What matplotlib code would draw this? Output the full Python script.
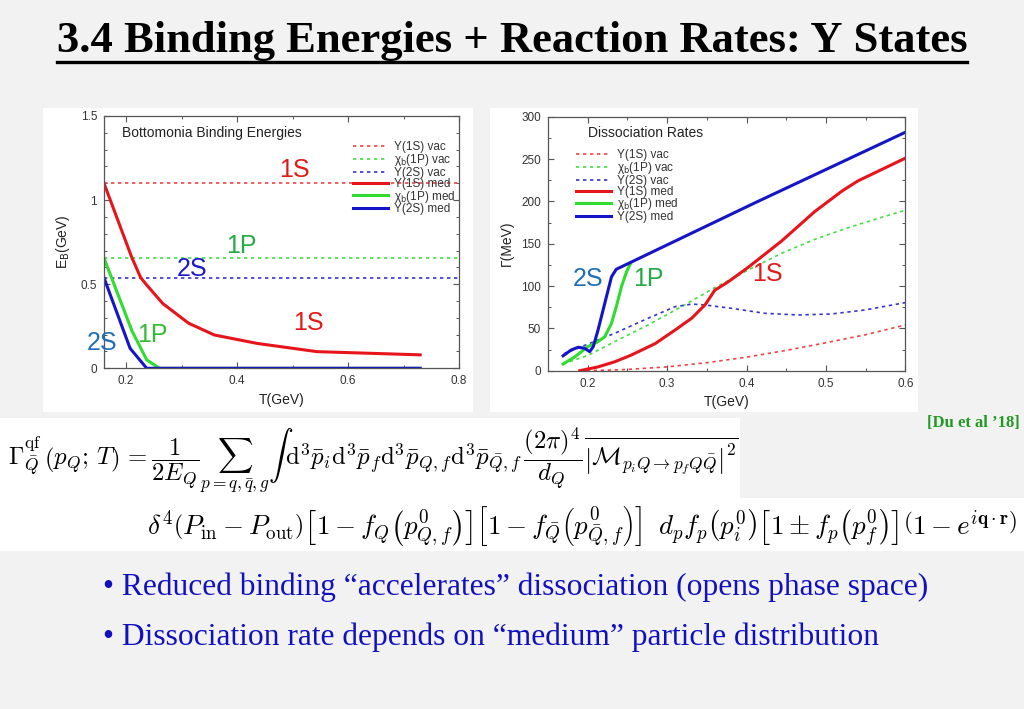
import matplotlib
matplotlib.use('Agg')
import matplotlib.pyplot as plt
from matplotlib.patches import Rectangle
from matplotlib.lines import Line2D
from matplotlib.ticker import MultipleLocator, FixedLocator

# ---------------- data ----------------
# Binding energies (GeV) vs T (GeV)
eb_vac_1s = 1.10
eb_vac_1p = 0.658
eb_vac_2s = 0.537
eb_T_1s = [0.16, 0.21, 0.226, 0.237, 0.266, 0.3125, 0.359, 0.436, 0.544, 0.73]
eb_1s = [1.10, 0.66, 0.54, 0.495, 0.385, 0.268, 0.198, 0.148, 0.099, 0.08]
eb_T_1p = [0.16, 0.2105, 0.237, 0.26, 0.73]
eb_1p = [0.655, 0.222, 0.05, 0.0, 0.0]
eb_T_2s = [0.16, 0.207, 0.237, 0.73]
eb_2s = [0.538, 0.119, 0.0, 0.0]

# Dissociation rates (MeV) vs T (GeV)
r_T_1s_vac = [0.19, 0.22, 0.25, 0.3, 0.35, 0.4, 0.45, 0.5, 0.55, 0.6]
r_1s_vac = [0, 0.5, 1.5, 4.5, 9.5, 16, 24, 33, 42.5, 54]
r_T_1p_vac = [0.169, 0.2, 0.234, 0.276, 0.318, 0.36, 0.402, 0.444, 0.486, 0.528, 0.57, 0.6]
r_1p_vac = [7.9, 18, 34.3, 54, 75.6, 98, 118.9, 138.6, 155.2, 168.9, 181.1, 189.5]
r_T_2s_vac = [0.17, 0.192, 0.234, 0.276, 0.31, 0.331, 0.348, 0.381, 0.423, 0.465, 0.507, 0.549, 0.6]
r_2s_vac = [20, 28.3, 44.2, 61.9, 75.6, 78.7, 77.6, 73.7, 67.8, 65.8, 67, 71.7, 80.4]
r_T_1s_med = [0.19, 0.213, 0.234, 0.255, 0.285, 0.31, 0.331, 0.348, 0.36, 0.377, 0.402, 0.444, 0.486, 0.52, 0.54, 0.6]
r_1s_med = [0, 4.5, 10.5, 18.5, 32, 48, 62, 78, 95, 105, 122, 153, 188, 212, 224, 251]
r_T_1p_med = [0.169, 0.184, 0.2, 0.213, 0.2215, 0.23, 0.236, 0.2425, 0.249, 0.254]
r_1p_med = [7.9, 16.5, 28.3, 34.3, 40.2, 56, 75.6, 99.2, 117, 126.8]
r_T_2s_med = [0.169, 0.179, 0.188, 0.196, 0.2025, 0.207, 0.213, 0.2215, 0.23, 0.236, 0.41, 0.6]
r_2s_med = [17.6, 24.4, 27.7, 26.5, 22.5, 28.4, 48, 79.6, 111, 119.8, 198, 281.6]

legend_labels = ['Υ(1S) vac', 'χ$_\\mathrm{b}$(1P) vac', 'Υ(2S) vac',
                 'Υ(1S) med', 'χ$_\\mathrm{b}$(1P) med', 'Υ(2S) med']
left_xticks = [0.2, 0.4, 0.6, 0.8]
left_yticks = [0, 0.5, 1, 1.5]
left_yticklabels = ['0', '0.5', '1', '1.5']
right_xticks = [0.2, 0.3, 0.4, 0.5, 0.6]
right_yticks = [0, 50, 100, 150, 200, 250, 300]

title = '3.4 Binding Energies + Reaction Rates: Υ States'
bullets = ['• Reduced binding \u201caccelerates\u201d dissociation (opens phase space)',
           '• Dissociation rate depends on \u201cmedium\u201d particle distribution']
citation = '[Du et al \u201918]'
formula1 = (r'$\Gamma^{\mathrm{qf}}_{\bar{Q}}\,\left(p_Q;\,T\right)\,=\dfrac{1}{2E_Q}'
            r'\sum_{p=q,\bar{q},g}\int\,\mathrm{d}^3\bar{p}_i\mathrm{d}^3\bar{p}_f'
            r'\mathrm{d}^3\bar{p}_{Q,f}\mathrm{d}^3\bar{p}_{\bar{Q},f}\,\dfrac{(2\pi)^4}{d_Q}'
            r'\overline{\left|\mathcal{M}_{p_iQ\rightarrow p_fQ\bar{Q}}\right|^2}$')
formula2 = (r'$\delta^4\left(P_{\mathrm{in}}-P_{\mathrm{out}}\right)\left[1-f_Q\left(p^0_{Q,f}\right)\right]'
            r'\left[1-f_{\bar{Q}}\left(p^0_{\bar{Q},f}\right)\right]\;\;d_pf_p\left(p^0_i\right)'
            r'\left[1\pm f_p\left(p^0_f\right)\right]\left(1-e^{i\mathbf{q}\cdot\mathbf{r}}\right)$')

# ---------------- styling ----------------
RED, GREEN, BLUE = '#e8141b', '#2fdc2f', '#1515c8'
RED_V, GREEN_V, BLUE_V = '#ee4444', '#44dd44', '#3535cc'
SANS = 'Liberation Sans'
SERIF = 'Liberation Serif'
plt.rcParams['font.family'] = [SANS, 'DejaVu Sans']

W, H = 1024, 709
fig = plt.figure(figsize=(W / 100, H / 100), dpi=100, facecolor='#f2f2f2')


def fx(px):
    return px / W


def fy(py):
    return 1 - py / H


for (x0, y0, x1, y1) in [(43, 108, 473, 412), (490, 108, 918, 412),
                         (0, 418, 740, 500), (0, 498, 1024, 551)]:
    fig.add_artist(Rectangle((fx(x0), fy(y1)), fx(x1 - x0), (y1 - y0) / H,
                             transform=fig.transFigure, facecolor='white',
                             edgecolor='none', zorder=0))


def style_axes(ax):
    for s in ax.spines.values():
        s.set_color('#555555')
        s.set_linewidth(0.9)
    ax.tick_params(which='both', direction='in', top=True, right=True,
                   colors='#555555', labelcolor='#333333', labelsize=8.5)
    ax.tick_params(which='major', length=4.5, width=0.8, pad=5)
    ax.tick_params(which='minor', length=2.5, width=0.7)
    for lab in ax.get_xticklabels() + ax.get_yticklabels():
        lab.set_fontfamily(SANS)


def add_legend(ax, handles, x, y):
    leg = ax.legend(handles, legend_labels, loc='upper left', bbox_to_anchor=(x, y),
                    frameon=False, fontsize=8.5, handlelength=3.0, handletextpad=0.5,
                    labelspacing=-0.1, borderpad=0, borderaxespad=0)
    for t in leg.get_texts():
        t.set_color('#333333')
    return leg


# ---------------- left: binding energies ----------------
axL = fig.add_axes([fx(104), fy(368.3), fx(459 - 104), (368.3 - 116) / H])
axL.set_facecolor('white')
axL.set_xlim(0.16, 0.8)
axL.set_ylim(0, 1.5)
h1 = axL.axhline(eb_vac_1s, color=RED_V, lw=1.2, ls=(0, (2, 2.2)))
h2 = axL.axhline(eb_vac_1p, color=GREEN_V, lw=1.2, ls=(0, (2, 2.2)))
h3 = axL.axhline(eb_vac_2s, color=BLUE_V, lw=1.2, ls=(0, (2, 2.2)))
h4, = axL.plot(eb_T_1s, eb_1s, color=RED, lw=2.2)
h5, = axL.plot(eb_T_1p, eb_1p, color=GREEN, lw=2.2)
h6, = axL.plot(eb_T_2s, eb_2s, color=BLUE, lw=2.2)
axL.xaxis.set_major_locator(FixedLocator(left_xticks))
axL.set_xticklabels(['%.1f' % v for v in left_xticks])
axL.yaxis.set_major_locator(FixedLocator(left_yticks))
axL.set_yticklabels(left_yticklabels)
axL.xaxis.set_minor_locator(MultipleLocator(0.1))
axL.yaxis.set_minor_locator(MultipleLocator(0.1))
style_axes(axL)
axL.set_xlabel('T(GeV)', fontsize=10, color='#222222', labelpad=4)
axL.set_ylabel('E$_\\mathrm{B}$(GeV)', fontsize=10, color='#222222', labelpad=6)
axL.text(0.0507, 0.933, 'Bottomonia Binding Energies', transform=axL.transAxes,
         fontsize=10, color='#222222', va='center', ha='left')
add_legend(axL, [h1, h2, h3, h4, h5, h6], 0.701, 0.9)
lab_kw = dict(fontsize=18, ha='center', va='center', clip_on=False)
axL.text(0.504, 1.177, '1S', color='#e01a1a', **lab_kw)
axL.text(0.408, 0.73, '1P', color='#22aa44', **lab_kw)
axL.text(0.319, 0.59, '2S', color='#1a1acc', **lab_kw)
axL.text(0.528, 0.267, '1S', color='#e01a1a', **lab_kw)
axL.text(0.248, 0.197, '1P', color='#33bb33', **lab_kw)
axL.text(0.157, 0.15, '2S', color='#1f6fb8', **lab_kw)

# ---------------- right: dissociation rates ----------------
axR = fig.add_axes([fx(548), fy(370.7), fx(905.3 - 548), (370.7 - 116.7) / H])
axR.set_facecolor('white')
axR.set_xlim(0.15, 0.6)
axR.set_ylim(0, 300)
g1, = axR.plot(r_T_1s_vac, r_1s_vac, color=RED_V, lw=1.2, ls=(0, (2, 2.2)))
g2, = axR.plot(r_T_1p_vac, r_1p_vac, color=GREEN_V, lw=1.2, ls=(0, (2, 2.2)))
g3, = axR.plot(r_T_2s_vac, r_2s_vac, color=BLUE_V, lw=1.2, ls=(0, (2, 2.2)))
g4, = axR.plot(r_T_1s_med, r_1s_med, color=RED, lw=2.2)
g5, = axR.plot(r_T_1p_med, r_1p_med, color=GREEN, lw=2.2)
g6, = axR.plot(r_T_2s_med, r_2s_med, color=BLUE, lw=2.2)
axR.xaxis.set_major_locator(FixedLocator(right_xticks))
axR.set_xticklabels(['%.1f' % v for v in right_xticks])
axR.yaxis.set_major_locator(FixedLocator(right_yticks))
axR.set_yticklabels([str(v) for v in right_yticks])
axR.xaxis.set_minor_locator(MultipleLocator(0.05))
axR.yaxis.set_minor_locator(MultipleLocator(25))
style_axes(axR)
axR.set_xlabel('T(GeV)', fontsize=10, color='#222222', labelpad=4)
axR.set_ylabel('Γ(MeV)', fontsize=10, color='#222222', labelpad=5)
axR.text(0.112, 0.936, 'Dissociation Rates', transform=axR.transAxes,
         fontsize=10, color='#222222', va='center', ha='left')
add_legend(axR, [g1, g2, g3, g4, g5, g6], 0.078, 0.872)
axR.text(0.2, 108, '2S', color='#1f6fb8', **lab_kw)
axR.text(0.277, 108, '1P', color='#22aa44', **lab_kw)
axR.text(0.4266, 114, '1S', color='#e01a1a', **lab_kw)

# ---------------- slide text ----------------
t = fig.text(0.5, fy(41), title, fontsize=32.1, fontweight='bold', family=SERIF,
             ha='center', va='center', color='black')
fig.canvas.draw()
bb = t.get_window_extent()
fig.add_artist(Line2D([bb.x0 / W, bb.x1 / W], [fy(61.5), fy(61.5)],
                      transform=fig.transFigure, color='black', lw=2.4))

fig.text(fx(1020), fy(423), citation, fontsize=12, fontweight='bold', family=SERIF,
         ha='right', va='center', color='#229922')

fig.text(fx(8), fy(461), formula1, fontsize=17.8, ha='left', va='center',
         math_fontfamily='cm', color='black')
fig.text(fx(147), fy(526), formula2, fontsize=19.5, ha='left', va='center',
         math_fontfamily='cm', color='black')

for i, b in enumerate(bullets):
    fig.text(fx(103), fy(595 + 50 * i), b, fontsize=22.7, family=SERIF,
             ha='left', va='baseline', color='#1010c0')

fig.savefig('out.png', dpi=100, facecolor=fig.get_facecolor())
